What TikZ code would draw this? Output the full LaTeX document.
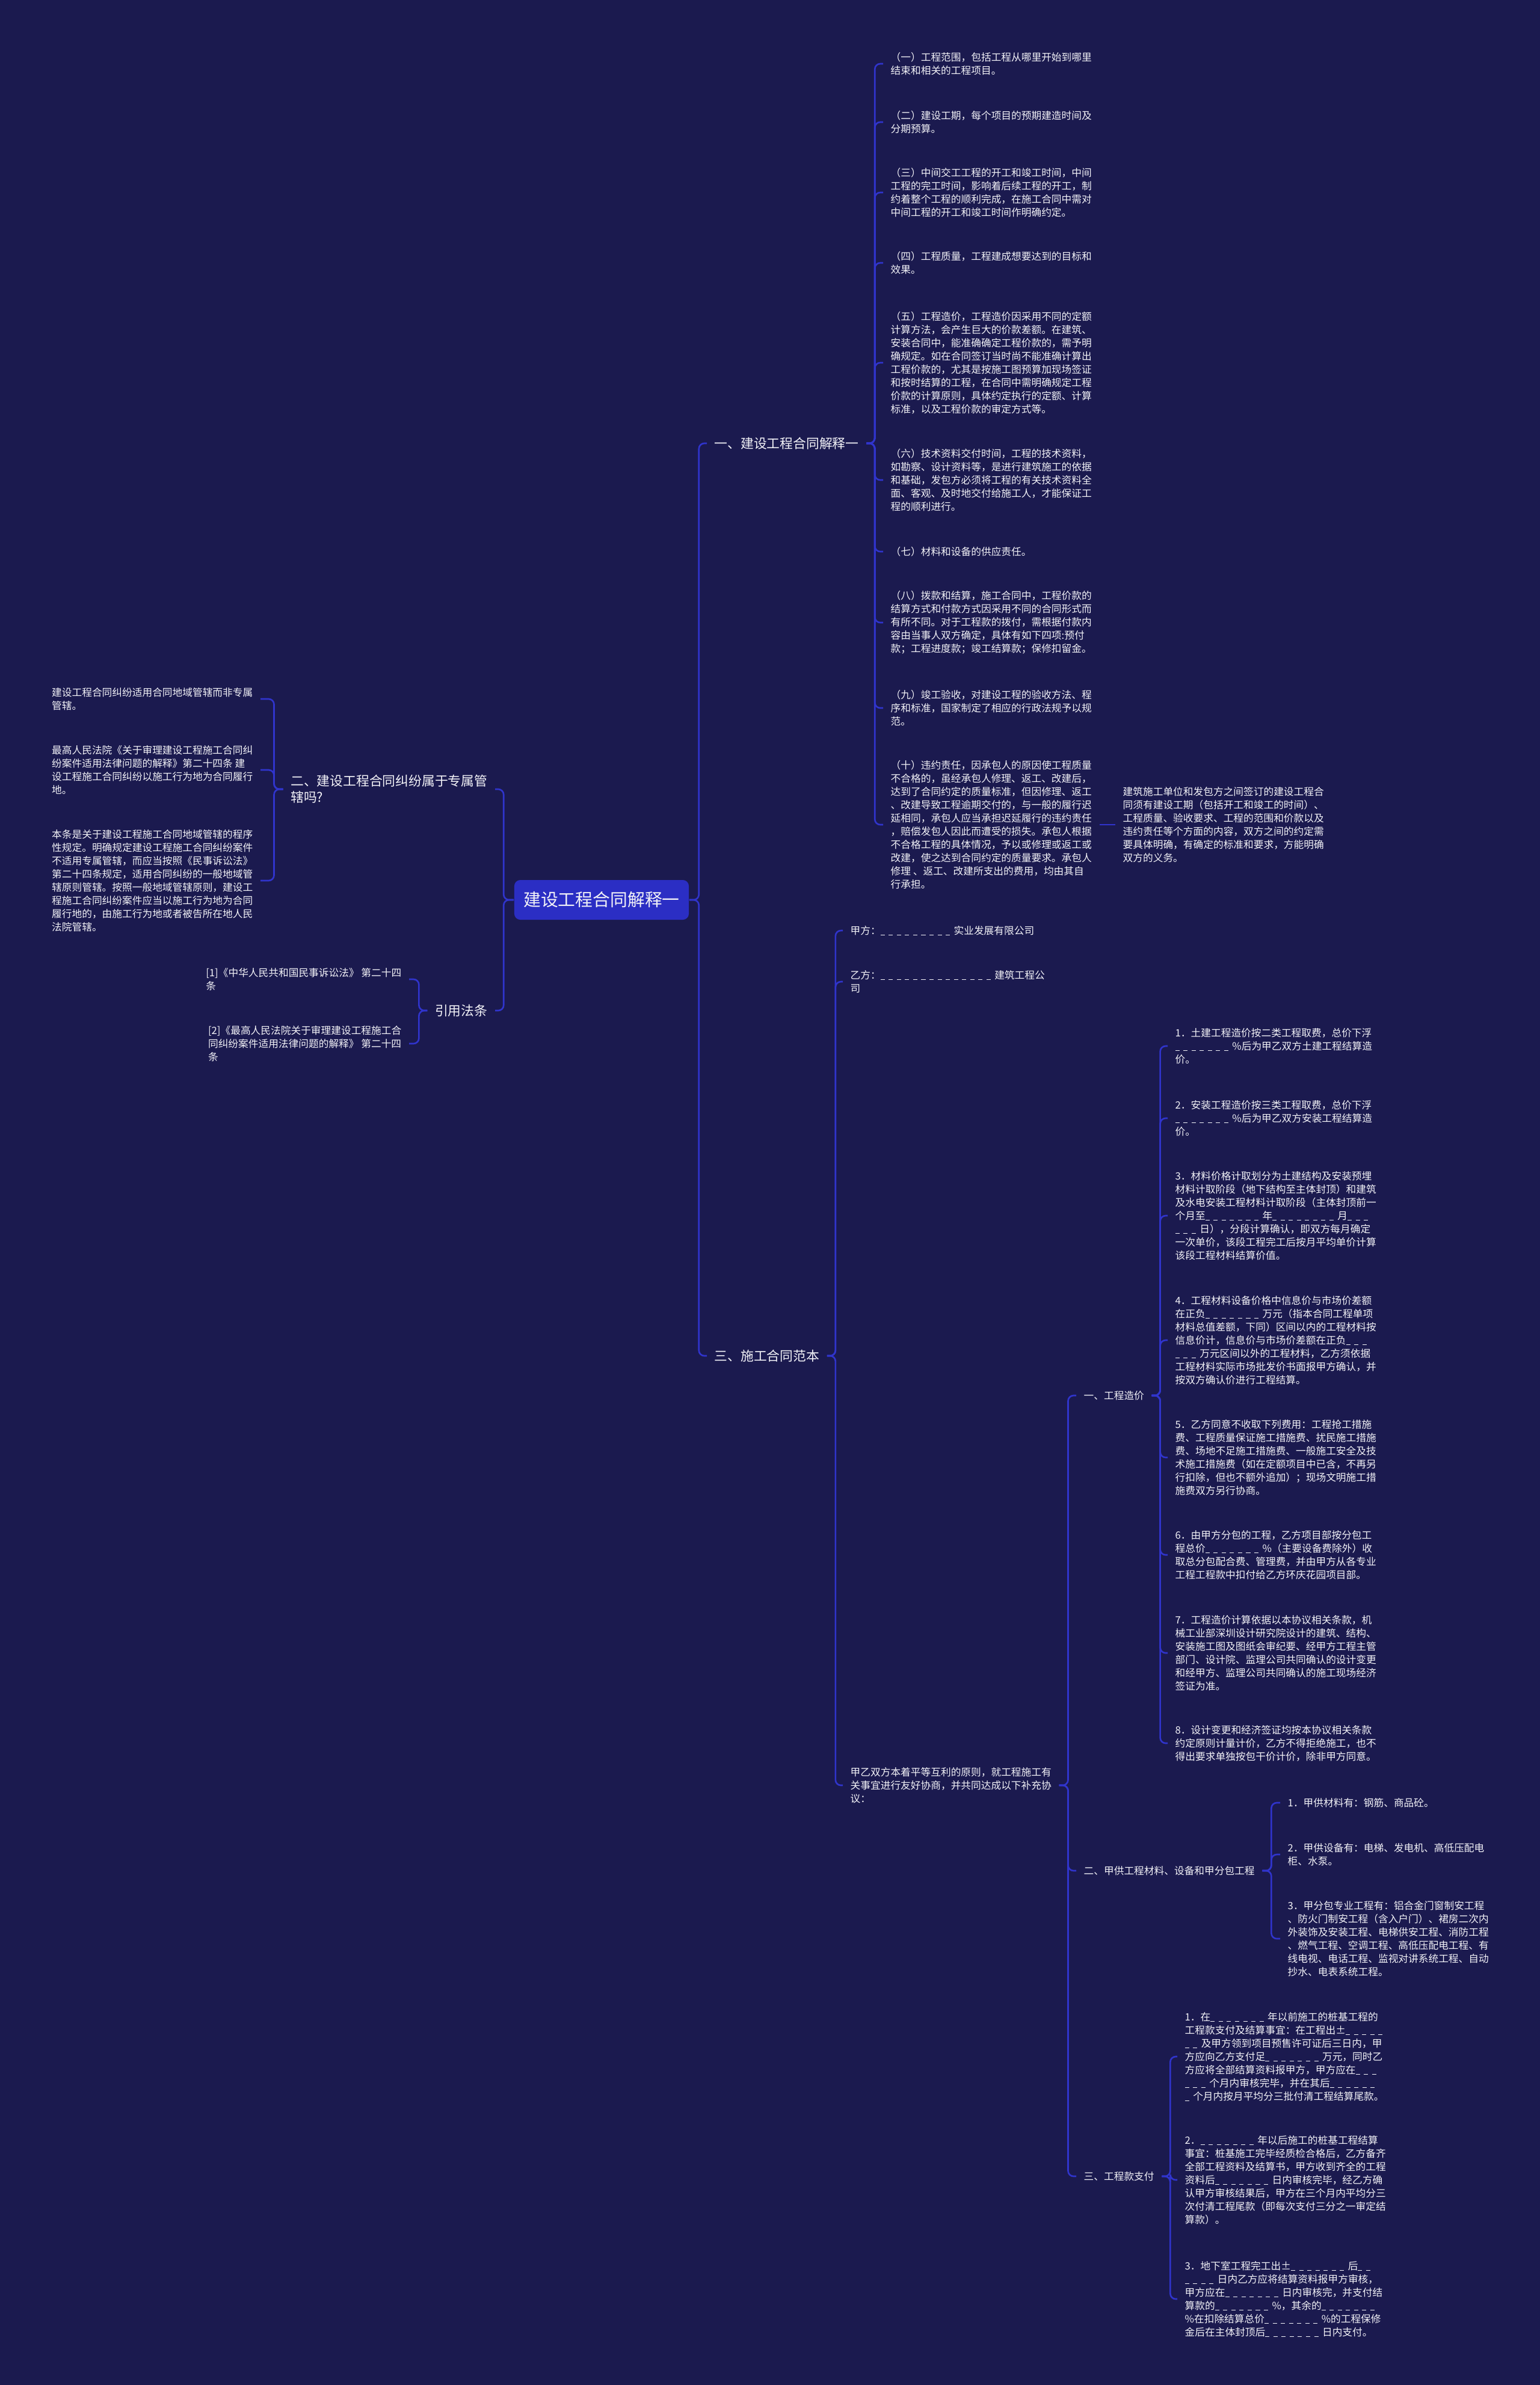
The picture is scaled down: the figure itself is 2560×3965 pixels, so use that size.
\documentclass[tikz,border=0pt]{standalone}
\usepackage{fontspec}
\setmainfont{Noto Sans CJK SC}
\usepackage{tikz}
\usepackage{xcolor}
\definecolor{MapNight}{HTML}{1B1A4F}
\definecolor{MapBlue}{HTML}{3034CC}
\definecolor{MapRoot}{HTML}{2B2EC4}
\definecolor{MapText}{HTML}{F2F2F7}
\newcommand{\blk}[1]{\foreach \k in {1,...,#1}{\rule[-0.1em]{0.42em}{0.07em}\hspace{0.39em}}}
\tikzset{
    rootbox/.style={
        fill=MapRoot,
        rounded corners=0.1cm,
        minimum width=2.9cm,
        minimum height=0.66cm,
        text=MapText,
        font=\fontsize{8.2}{10}\selectfont,
        inner sep=0pt
    },
    topic/.style={
        text=MapText,
        font=\fontsize{6.2}{7.7}\selectfont,
        align=left,
        inner xsep=0.12cm,
        inner ysep=1pt
    },
    leaf/.style={
        text=MapText,
        font=\fontsize{4.75}{6.26}\selectfont,
        align=left,
        inner xsep=0.12cm,
        inner ysep=1pt
    },
    link/.style={
        draw=MapBlue,
        line width=0.75pt,
        rounded corners=0.09cm
    }
}

\begin{document}
\begin{tikzpicture}[x=0.01cm, y=-0.01cm]
    % background
    \fill[MapNight] (0,0) rectangle (2560,3965);

    % root
    \node[rootbox] (root) at (1000,1496) {建设工程合同解释一};

    % left side
    \node[topic, anchor=east] (sec2) at (823,1312) {二、建设工程合同纠纷属于专属管\\辖吗?};
    \node[topic, anchor=east] (cite) at (823,1680) {引用法条};

    \node[leaf, anchor=east] (b1) at (433,1162) {建设工程合同纠纷适用合同地域管辖而非专属\\管辖。};
    \node[leaf, anchor=east] (b2) at (433,1280) {最高人民法院《关于审理建设工程施工合同纠\\纷案件适用法律问题的解释》第二十四条 建\\设工程施工合同纠纷以施工行为地为合同履行\\地。};
    \node[leaf, anchor=east] (b3) at (433,1464) {本条是关于建设工程施工合同地域管辖的程序\\性规定。明确规定建设工程施工合同纠纷案件\\不适用专属管辖，而应当按照《民事诉讼法》\\第二十四条规定，适用合同纠纷的一般地域管\\辖原则管辖。按照一般地域管辖原则，建设工\\程施工合同纠纷案件应当以施工行为地为合同\\履行地的，由施工行为地或者被告所在地人民\\法院管辖。};

    \node[leaf, anchor=east] (r1) at (680,1628) {[1]《中华人民共和国民事诉讼法》 第二十四\\条};
    \node[leaf, anchor=east] (r2) at (680,1735) {[2]《最高人民法院关于审理建设工程施工合\\同纠纷案件适用法律问题的解释》 第二十四\\条};

    % right side, part one
    \node[topic, anchor=west] (sec1) at (1175,737) {一、建设工程合同解释一};

    \node[leaf, anchor=west] (a1) at (1468,106) {（一）工程范围，包括工程从哪里开始到哪里\\结束和相关的工程项目。};
    \node[leaf, anchor=west] (a2) at (1468,203) {（二）建设工期，每个项目的预期建造时间及\\分期预算。};
    \node[leaf, anchor=west] (a3) at (1468,320) {（三）中间交工工程的开工和竣工时间，中间\\工程的完工时间，影响着后续工程的开工，制\\约着整个工程的顺利完成，在施工合同中需对\\中间工程的开工和竣工时间作明确约定。};
    \node[leaf, anchor=west] (a4) at (1468,437) {（四）工程质量，工程建成想要达到的目标和\\效果。};
    \node[leaf, anchor=west] (a5) at (1468,603) {（五）工程造价，工程造价因采用不同的定额\\计算方法，会产生巨大的价款差额。在建筑、\\安装合同中，能准确确定工程价款的，需予明\\确规定。如在合同签订当时尚不能准确计算出\\工程价款的，尤其是按施工图预算加现场签证\\和按时结算的工程，在合同中需明确规定工程\\价款的计算原则，具体约定执行的定额、计算\\标准，以及工程价款的审定方式等。};
    \node[leaf, anchor=west] (a6) at (1468,798) {（六）技术资料交付时间，工程的技术资料，\\如勘察、设计资料等，是进行建筑施工的依据\\和基础，发包方必须将工程的有关技术资料全\\面、客观、及时地交付给施工人，才能保证工\\程的顺利进行。};
    \node[leaf, anchor=west] (a7) at (1468,917) {（七）材料和设备的供应责任。};
    \node[leaf, anchor=west] (a8) at (1468,1035) {（八）拨款和结算，施工合同中，工程价款的\\结算方式和付款方式因采用不同的合同形式而\\有所不同。对于工程款的拨付，需根据付款内\\容由当事人双方确定，具体有如下四项:预付\\款；工程进度款；竣工结算款；保修扣留金。};
    \node[leaf, anchor=west] (a9) at (1468,1177) {（九）竣工验收，对建设工程的验收方法、程\\序和标准，国家制定了相应的行政法规予以规\\范。};
    \node[leaf, anchor=west] (a10) at (1468,1371) {（十）违约责任，因承包人的原因使工程质量\\不合格的，虽经承包人修理、返工、改建后，\\达到了合同约定的质量标准，但因修理、返工\\、改建导致工程逾期交付的，与一般的履行迟\\延相同，承包人应当承担迟延履行的违约责任\\，赔偿发包人因此而遭受的损失。承包人根据\\不合格工程的具体情况，予以或修理或返工或\\改建，使之达到合同约定的质量要求。承包人\\修理 、返工、改建所支出的费用，均由其自\\行承担。};
    \node[leaf, anchor=west] (anote) at (1854,1371) {建筑施工单位和发包方之间签订的建设工程合\\同须有建设工期（包括开工和竣工的时间）、\\工程质量、验收要求、工程的范围和价款以及\\违约责任等个方面的内容，双方之间的约定需\\要具体明确，有确定的标准和要求，方能明确\\双方的义务。};

    % right side, part three
    \node[topic, anchor=west] (sec3) at (1175,2254) {三、施工合同范本};

    \node[leaf, anchor=west] (partya) at (1401,1547) {甲方：\blk{9}实业发展有限公司};
    \node[leaf, anchor=west] (partyb) at (1401,1632) {乙方：\blk{14}建筑工程公\\司};
    \node[leaf, anchor=west] (agree) at (1401,2968) {甲乙双方本着平等互利的原则，就工程施工有\\关事宜进行友好协商，并共同达成以下补充协\\议：};

    \node[leaf, anchor=west] (cost) at (1789,2320) {一、工程造价};
    \node[leaf, anchor=west] (supply) at (1789,3110) {二、甲供工程材料、设备和甲分包工程};
    \node[leaf, anchor=west] (pay) at (1789,3618) {三、工程款支付};

    \node[leaf, anchor=west] (c1) at (1941,1739) {1．土建工程造价按二类工程取费，总价下浮\\\blk{7}\%后为甲乙双方土建工程结算造\\价。};
    \node[leaf, anchor=west] (c2) at (1941,1859) {2．安装工程造价按三类工程取费，总价下浮\\\blk{7}\%后为甲乙双方安装工程结算造\\价。};
    \node[leaf, anchor=west] (c3) at (1941,2021) {3．材料价格计取划分为土建结构及安装预埋\\材料计取阶段（地下结构至主体封顶）和建筑\\及水电安装工程材料计取阶段（主体封顶前一\\个月至\blk{7}年\blk{8}月\blk{3}\\\blk{3}日），分段计算确认，即双方每月确定\\一次单价，该段工程完工后按月平均单价计算\\该段工程材料结算价值。};
    \node[leaf, anchor=west] (c4) at (1941,2228) {4．工程材料设备价格中信息价与市场价差额\\在正负\blk{7}万元（指本合同工程单项\\材料总值差额，下同）区间以内的工程材料按\\信息价计，信息价与市场价差额在正负\blk{3}\\\blk{3}万元区间以外的工程材料，乙方须依据\\工程材料实际市场批发价书面报甲方确认，并\\按双方确认价进行工程结算。};
    \node[leaf, anchor=west] (c5) at (1941,2423) {5．乙方同意不收取下列费用：工程抢工措施\\费、工程质量保证施工措施费、扰民施工措施\\费、场地不足施工措施费、一般施工安全及技\\术施工措施费（如在定额项目中已含，不再另\\行扣除，但也不额外追加）；现场文明施工措\\施费双方另行协商。};
    \node[leaf, anchor=west] (c6) at (1941,2585) {6．由甲方分包的工程，乙方项目部按分包工\\程总价\blk{7}\%（主要设备费除外）收\\取总分包配合费、管理费，并由甲方从各专业\\工程工程款中扣付给乙方环庆花园项目部。};
    \node[leaf, anchor=west] (c7) at (1941,2748) {7．工程造价计算依据以本协议相关条款，机\\械工业部深圳设计研究院设计的建筑、结构、\\安装施工图及图纸会审纪要、经甲方工程主管\\部门、设计院、监理公司共同确认的设计变更\\和经甲方、监理公司共同确认的施工现场经济\\签证为准。};
    \node[leaf, anchor=west] (c8) at (1941,2898) {8．设计变更和经济签证均按本协议相关条款\\约定原则计量计价，乙方不得拒绝施工，也不\\得出要求单独按包干价计价，除非甲方同意。};

    \node[leaf, anchor=west] (s1) at (2128,2997) {1．甲供材料有：钢筋、商品砼。};
    \node[leaf, anchor=west] (s2) at (2128,3083) {2．甲供设备有：电梯、发电机、高低压配电\\柜、水泵。};
    \node[leaf, anchor=west] (s3) at (2128,3223) {3．甲分包专业工程有：铝合金门窗制安工程\\、防火门制安工程（含入户门）、裙房二次内\\外装饰及安装工程、电梯供安工程、消防工程\\、燃气工程、空调工程、高低压配电工程、有\\线电视、电话工程、监视对讲系统工程、自动\\抄水、电表系统工程。};

    \node[leaf, anchor=west] (p1) at (1957,3419) {1．在\blk{7}年以前施工的桩基工程的\\工程款支付及结算事宜：在工程出±\blk{5}\\\blk{2}及甲方领到项目预售许可证后三日内，甲\\方应向乙方支付足\blk{7}万元，同时乙\\方应将全部结算资料报甲方，甲方应在\blk{3}\\\blk{3}个月内审核完毕，并在其后\blk{6}\\\blk{1}个月内按月平均分三批付清工程结算尾款。};
    \node[leaf, anchor=west] (p2) at (1957,3624) {2．\blk{7}年以后施工的桩基工程结算\\事宜：桩基施工完毕经质检合格后，乙方备齐\\全部工程资料及结算书，甲方收到齐全的工程\\资料后\blk{7}日内审核完毕，经乙方确\\认甲方审核结果后，甲方在三个月内平均分三\\次付清工程尾款（即每次支付三分之一审定结\\算款）。};
    \node[leaf, anchor=west] (p3) at (1957,3822) {3．地下室工程完工出±\blk{7}后\blk{2}\\\blk{4}日内乙方应将结算资料报甲方审核，\\甲方应在\blk{7}日内审核完，并支付结\\算款的\blk{7}\%，其余的\blk{7}\\\%在扣除结算总价\blk{7}\%的工程保修\\金后在主体封顶后\blk{7}日内支付。};

    % connectors from root
    \draw[link] (root.west) -- ++(-17,0) |- (sec2.east);
    \draw[link] (root.west) -- ++(-17,0) |- (cite.east);
    \draw[link] (root.east) -- ++(16,0) |- (sec1.west);
    \draw[link] (root.east) -- ++(16,0) |- (sec3.west);

    % left connectors
    \draw[link] (sec2.west) -- ++(-15,0) |- (b1.east);
    \draw[link] (sec2.west) -- ++(-15,0) |- (b2.east);
    \draw[link] (sec2.west) -- ++(-15,0) |- (b3.east);
    \draw[link] (cite.west) -- ++(-14,0) |- (r1.east);
    \draw[link] (cite.west) -- ++(-14,0) |- (r2.east);

    % part one connectors
    \draw[link] (sec1.east) -- ++(14,0) |- (a1.west);
    \draw[link] (sec1.east) -- ++(14,0) |- (a2.west);
    \draw[link] (sec1.east) -- ++(14,0) |- (a3.west);
    \draw[link] (sec1.east) -- ++(14,0) |- (a4.west);
    \draw[link] (sec1.east) -- ++(14,0) |- (a5.west);
    \draw[link] (sec1.east) -- ++(14,0) |- (a6.west);
    \draw[link] (sec1.east) -- ++(14,0) |- (a7.west);
    \draw[link] (sec1.east) -- ++(14,0) |- (a8.west);
    \draw[link] (sec1.east) -- ++(14,0) |- (a9.west);
    \draw[link] (sec1.east) -- ++(14,0) |- (a10.west);
    \draw[link] (a10.east) -- (anote.west);

    % part three connectors
    \draw[link] (sec3.east) -- ++(14,0) |- (partya.west);
    \draw[link] (sec3.east) -- ++(14,0) |- (partyb.west);
    \draw[link] (sec3.east) -- ++(14,0) |- (agree.west);
    \draw[link] (agree.east) -- ++(15,0) |- (cost.west);
    \draw[link] (agree.east) -- ++(15,0) |- (supply.west);
    \draw[link] (agree.east) -- ++(15,0) |- (pay.west);

    \draw[link] (cost.east) -- ++(14,0) |- (c1.west);
    \draw[link] (cost.east) -- ++(14,0) |- (c2.west);
    \draw[link] (cost.east) -- ++(14,0) |- (c3.west);
    \draw[link] (cost.east) -- ++(14,0) |- (c4.west);
    \draw[link] (cost.east) -- ++(14,0) |- (c5.west);
    \draw[link] (cost.east) -- ++(14,0) |- (c6.west);
    \draw[link] (cost.east) -- ++(14,0) |- (c7.west);
    \draw[link] (cost.east) -- ++(14,0) |- (c8.west);

    \draw[link] (supply.east) -- ++(15,0) |- (s1.west);
    \draw[link] (supply.east) -- ++(15,0) |- (s2.west);
    \draw[link] (supply.east) -- ++(15,0) |- (s3.west);

    \draw[link] (pay.east) -- ++(14,0) |- (p1.west);
    \draw[link] (pay.east) -- ++(14,0) |- (p2.west);
    \draw[link] (pay.east) -- ++(14,0) |- (p3.west);
\end{tikzpicture}
\end{document}
